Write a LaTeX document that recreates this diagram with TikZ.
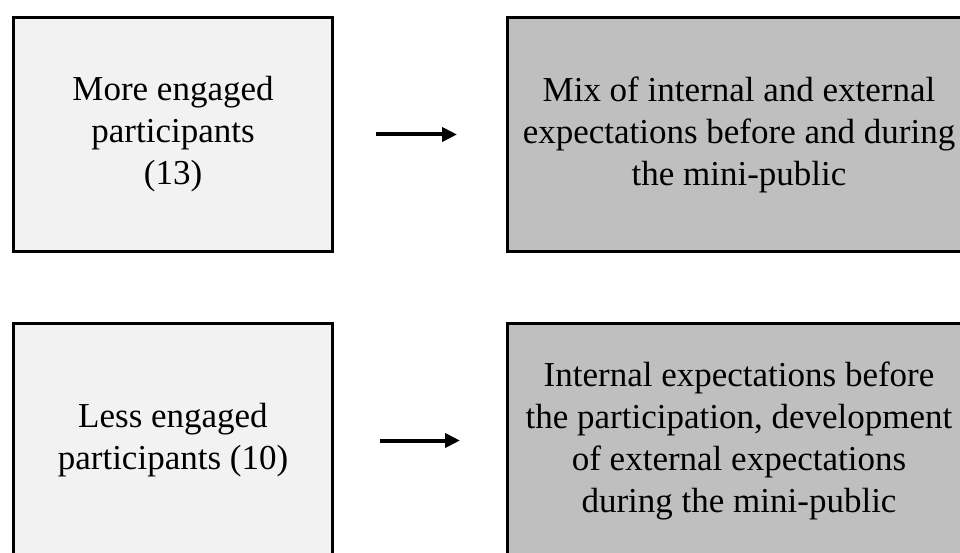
\documentclass[tikz,border=0pt]{standalone}
\usepackage{fontspec}
\setmainfont{Liberation Serif}
\usepackage{tikz}
\usetikzlibrary{positioning}
\usetikzlibrary{arrows.meta}
\definecolor{groupcol}{HTML}{F2F2F2}
\definecolor{expcol}{HTML}{BFBFBF}
\tikzset{
  group/.style={draw=black,line width=3pt,fill=groupcol,minimum width=319pt,minimum height=234pt,align=center,inner sep=0pt,font=\fontsize{35}{42}\selectfont},
  expect/.style={group,fill=expcol,minimum width=463pt},
  leadsto/.style={-{Triangle[length=15pt,width=14pt]},line width=4pt},
}

\begin{document}
\begin{tikzpicture}[x=1pt,y=1pt]
    \useasboundingbox (0,0) rectangle (960,552);
    \clip (0,0) rectangle (960,552);
    \node[group] (more) at (173,417.5) {More engaged\\participants\\(13)};
    \node[expect,right=172pt of more] (mix) {Mix of internal and external\\expectations before and during\\the mini-public};
    \node[group,below=69pt of more] (less) {Less engaged\\participants (10)};
    \node[expect,right=172pt of less] (internal) {Internal expectations before\\the participation, development\\of external expectations\\during the mini-public};
    \draw[leadsto,shorten <=42pt,shorten >=49pt] (more) -- (mix);
    \draw[leadsto,shorten <=46pt,shorten >=46pt] (less) -- (internal);
  \end{tikzpicture}
\end{document}
